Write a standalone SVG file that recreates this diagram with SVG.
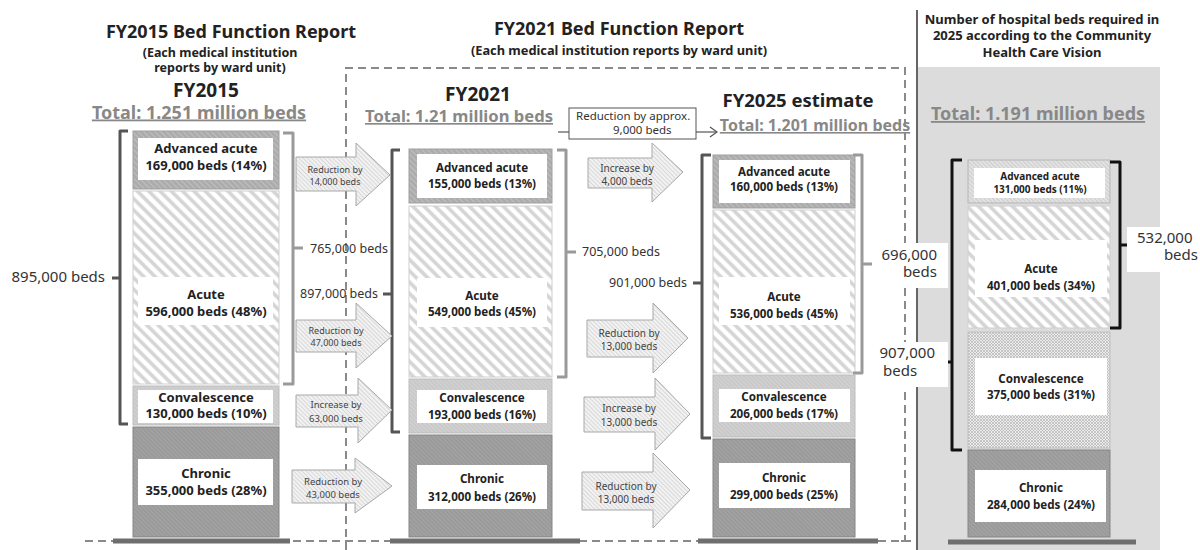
<svg xmlns="http://www.w3.org/2000/svg" width="1200" height="550" viewBox="0 0 1200 550">
<style>
text{font-family:"Noto Sans","DejaVu Sans",sans-serif;}
.title{font-size:18px;font-weight:bold;fill:#222;text-anchor:middle}
.sub{font-size:12.5px;font-weight:bold;fill:#222;text-anchor:middle}
.yr{font-size:19px;font-weight:bold;fill:#222;text-anchor:middle}
.tot{font-size:18px;font-weight:bold;fill:#888;text-anchor:middle;text-decoration:underline}
.lb1{font-size:13px;font-weight:bold;fill:#222;text-anchor:middle}
.lb{font-size:11.6px;font-weight:bold;fill:#222;text-anchor:middle}
.lbs{font-size:10px;font-weight:bold;fill:#222;text-anchor:middle}
.num{font-size:12.5px;fill:#333}
.numL{font-size:15px;fill:#333}
.ar1{font-size:9px;fill:#444;text-anchor:middle}
.ar2{font-size:10px;fill:#444;text-anchor:middle}
.red{font-size:11.5px;fill:#333}
.wb{fill:#fff}
.adv{fill:url(#pAdv);stroke:#a0a0a0;stroke-width:1}
.acu{fill:url(#pAcute);stroke:#cfcfcf;stroke-width:1}
.con{fill:url(#pConv);stroke:#bdbdbd;stroke-width:1}
.chr{fill:url(#pChr);stroke:#858585;stroke-width:1}
.adv4{fill:url(#pAdv4);stroke:#b5b5b5;stroke-width:1}
.con4{fill:url(#pConv4);stroke:#c0c0c0;stroke-width:1}
.arrow{fill:url(#pArrow);stroke:#a8a8a8;stroke-width:1}
.brD{fill:none;stroke:#555;stroke-width:3;stroke-linejoin:round}
.brL{fill:none;stroke:#9a9a9a;stroke-width:3;stroke-linejoin:round}
.brK{fill:none;stroke:#111;stroke-width:3;stroke-linejoin:round}
.base{stroke:#6e6e6e;stroke-width:5}
.dash{fill:none;stroke:#8a8a8a;stroke-width:2;stroke-dasharray:8 5}
</style>
<defs>
<pattern id="pAdv" width="4" height="4" patternUnits="userSpaceOnUse" patternTransform="rotate(-45)">
<rect width="4" height="4" fill="#acacac"/><line x1="0" y1="0" x2="0" y2="4" stroke="#c9c9c9" stroke-width="1.4"/></pattern>
<pattern id="pAcute" width="8" height="8" patternUnits="userSpaceOnUse" patternTransform="rotate(-45)">
<rect width="8" height="8" fill="#fff"/><line x1="2" y1="0" x2="2" y2="8" stroke="#d4d4d4" stroke-width="3.5"/></pattern>
<pattern id="pConv" width="3" height="3" patternUnits="userSpaceOnUse" patternTransform="rotate(-45)">
<rect width="3" height="3" fill="#c9c9c9"/><line x1="0" y1="0" x2="0" y2="3" stroke="#dedede" stroke-width="1"/></pattern>
<pattern id="pChr" width="3" height="3" patternUnits="userSpaceOnUse" patternTransform="rotate(-45)">
<rect width="3" height="3" fill="#9a9a9a"/><line x1="0" y1="0" x2="0" y2="3" stroke="#b0b0b0" stroke-width="1"/></pattern>
<pattern id="pAdv4" width="3" height="3" patternUnits="userSpaceOnUse" patternTransform="rotate(-45)">
<rect width="3" height="3" fill="#e2e2e2"/><line x1="0" y1="0" x2="0" y2="3" stroke="#b8b8b8" stroke-width="1"/></pattern>
<pattern id="pConv4" width="3" height="3" patternUnits="userSpaceOnUse">
<rect width="3" height="3" fill="#ececec"/><path d="M0,0 L3,3 M3,0 L0,3" stroke="#b5b5b5" stroke-width="0.7"/></pattern>
<pattern id="pArrow" width="3" height="3" patternUnits="userSpaceOnUse" patternTransform="rotate(-45)">
<rect width="3" height="3" fill="#f2f2f2"/><line x1="0" y1="0" x2="0" y2="3" stroke="#b3b3b3" stroke-width="0.8"/></pattern>
</defs>

<rect width="1200" height="550" fill="#fff"/>

<!-- right panel background -->
<rect x="918" y="67" width="242" height="483" fill="#dcdcdc"/>
<line x1="917" y1="10" x2="917" y2="550" stroke="#666" stroke-width="2"/>

<!-- frames and baselines -->
<g id="frames">
<path class="dash" d="M346,550 V68 H905 V541"/>
<line class="dash" x1="85" y1="541" x2="906" y2="541"/>
<line x1="901" y1="541" x2="911" y2="541" stroke="#8a8a8a" stroke-width="2"/>
<line class="base" x1="113" y1="541" x2="290" y2="541"/>
<line class="base" x1="390" y1="541" x2="580" y2="541"/>
<line class="base" x1="698" y1="541" x2="878" y2="541"/>
<line class="base" x1="948" y1="542" x2="1136" y2="542"/>
</g>

<!-- headers -->
<g id="headers">
<text class="title" x="231" y="38">FY2015 Bed Function Report</text>
<text class="sub" x="220" y="56.5">(Each medical institution</text>
<text class="sub" x="220" y="71.5">reports by ward unit)</text>
<text class="yr" x="206" y="97">FY2015</text>
<text class="tot" x="199" y="118.5">Total: 1.251 million beds</text>
<text class="title" x="619" y="35">FY2021 Bed Function Report</text>
<text class="sub" x="619" y="55" style="font-size:12.8px">(Each medical institution reports by ward unit)</text>
<text class="yr" x="478" y="101">FY2021</text>
<text class="tot" x="459" y="122" style="font-size:16.6px">Total: 1.21 million beds</text>
<text class="yr" x="798" y="107" style="font-size:18.5px">FY2025 estimate</text>
<text class="tot" x="815" y="131" style="font-size:16px">Total: 1.201 million beds</text>
<text class="sub" x="1042" y="23.5" style="font-size:13px">Number of hospital beds required in</text>
<text class="sub" x="1042" y="40" style="font-size:13px">2025 according to the Community</text>
<text class="sub" x="1042" y="56.5" style="font-size:13px">Health Care Vision</text>
<text class="tot" x="1038" y="120">Total: 1.191 million beds</text>
</g>

<!-- FY2015 column -->
<g id="col2015">
<rect class="adv" x="133" y="131" width="146" height="58"/>
<rect class="wb" x="138" y="138" width="135" height="42"/>
<text class="lb1" x="206" y="153">Advanced acute</text>
<text class="lb1" x="206" y="170">169,000 beds (14%)</text>
<rect class="acu" x="133" y="191" width="146" height="193"/>
<rect class="wb" x="138" y="277" width="135" height="48"/>
<text class="lb1" x="206" y="299">Acute</text>
<text class="lb1" x="206" y="316">596,000 beds (48%)</text>
<rect class="con" x="133" y="386" width="146" height="39"/>
<rect class="wb" x="138" y="390" width="135" height="33"/>
<text class="lb1" x="206" y="402">Convalescence</text>
<text class="lb1" x="206" y="418">130,000 beds (10%)</text>
<rect class="chr" x="133" y="427" width="146" height="110"/>
<rect class="wb" x="138" y="459" width="135" height="46"/>
<text class="lb1" x="206" y="478">Chronic</text>
<text class="lb1" x="206" y="495">355,000 beds (28%)</text>
</g>

<!-- FY2021 column -->
<g id="col2021">
<rect class="adv" x="409" y="149" width="143" height="54"/>
<rect class="wb" x="417" y="154" width="130" height="44"/>
<text class="lb" x="482" y="172">Advanced acute</text>
<text class="lb" x="482" y="188">155,000 beds (13%)</text>
<rect class="acu" x="409" y="206" width="143" height="171"/>
<rect class="wb" x="417" y="278" width="130" height="49"/>
<text class="lb" x="482" y="300">Acute</text>
<text class="lb" x="482" y="316">549,000 beds (45%)</text>
<rect class="con" x="409" y="379" width="143" height="54"/>
<rect class="wb" x="417" y="390" width="130" height="33"/>
<text class="lb" x="482" y="402">Convalescence</text>
<text class="lb" x="482" y="419">193,000 beds (16%)</text>
<rect class="chr" x="409" y="435" width="143" height="102"/>
<rect class="wb" x="417" y="465" width="130" height="44"/>
<text class="lb" x="482" y="483">Chronic</text>
<text class="lb" x="482" y="501">312,000 beds (26%)</text>
</g>

<!-- FY2025 estimate column -->
<g id="col2025">
<rect class="adv" x="713" y="155" width="142" height="53"/>
<rect class="wb" x="719" y="160" width="131" height="43"/>
<text class="lb" x="784" y="176">Advanced acute</text>
<text class="lb" x="784" y="191">160,000 beds (13%)</text>
<rect class="acu" x="713" y="210" width="142" height="163"/>
<rect class="wb" x="719" y="277" width="131" height="48"/>
<text class="lb" x="784" y="301">Acute</text>
<text class="lb" x="784" y="318">536,000 beds (45%)</text>
<rect class="con" x="713" y="375" width="142" height="62"/>
<rect class="wb" x="719" y="389" width="131" height="33"/>
<text class="lb" x="784" y="401">Convalescence</text>
<text class="lb" x="784" y="418">206,000 beds (17%)</text>
<rect class="chr" x="713" y="439" width="142" height="98"/>
<rect class="wb" x="719" y="463" width="131" height="45"/>
<text class="lb" x="784" y="482">Chronic</text>
<text class="lb" x="784" y="499">299,000 beds (25%)</text>
</g>

<!-- Community Health Care Vision column -->
<g id="colVision">
<rect class="adv4" x="968" y="160" width="142" height="43"/>
<rect class="wb" x="974" y="168" width="131" height="30"/>
<text class="lbs" x="1040" y="180">Advanced acute</text>
<text class="lbs" x="1040" y="193">131,000 beds (11%)</text>
<rect class="acu" x="968" y="206" width="142" height="122"/>
<rect class="wb" x="975" y="240" width="132" height="57"/>
<text class="lb" x="1041" y="273">Acute</text>
<text class="lb" x="1041" y="290">401,000 beds (34%)</text>
<rect class="con4" x="968" y="332" width="142" height="116"/>
<rect class="wb" x="975" y="358" width="132" height="57"/>
<text class="lb" x="1041" y="383">Convalescence</text>
<text class="lb" x="1041" y="399">375,000 beds (31%)</text>
<rect class="chr" x="968" y="450" width="142" height="87"/>
<rect class="wb" x="975" y="470" width="131" height="52"/>
<text class="lb" x="1041" y="492">Chronic</text>
<text class="lb" x="1041" y="509">284,000 beds (24%)</text>
</g>

<!-- connectors: brackets, arrows, totals -->
<g id="connectors">
<path class="brD" d="M128,131 H120 V424 H128 M120,278 H112"/>
<path class="brL" d="M283,133 H293 V384 H283 M293,248 H303"/>
<path class="brD" d="M400,150 H392 V432 H400 M392,294 H383"/>
<path class="brL" d="M557,150 H566 V377 H557 M566,252 H576"/>
<path class="brD" d="M711,155 H702 V438 H711 M702,283 H693"/>
<path class="brL" d="M853,155 H862 V373 H853 M862,264 H872"/>
<path class="brK" d="M962,160 H952 V450 H962 M952,362 H944"/>
<path class="brK" d="M1110,162 H1120 V328 H1110 M1120,245 H1129"/>

<path class="arrow" d="M296,157 H356 V143 L390,175 L356,206 V191 H296 Z"/>
<path class="arrow" d="M296,320 H356 V303 L392,336 L356,368 V352 H296 Z"/>
<path class="arrow" d="M296,395 H358 V378 L392,410 L358,443 V427 H296 Z"/>
<path class="arrow" d="M292,470 H355 V458 L392,486 L355,513 V503 H292 Z"/>
<path class="arrow" d="M588,158 H652 V143 L683,172 L652,202 V188 H588 Z"/>
<path class="arrow" d="M587,320 H653 V303 L688,338 L653,373 V357 H587 Z"/>
<path class="arrow" d="M584,397 H655 V378 L690,414 L655,450 V432 H584 Z"/>
<path class="arrow" d="M582,472 H653 V453 L690,490 L653,528 V510 H582 Z"/>

<text class="ar1" x="335" y="173">Reduction by</text>
<text class="ar1" x="335" y="185">14,000 beds</text>
<text class="ar1" x="336" y="334">Reduction by</text>
<text class="ar1" x="336" y="346">47,000 beds</text>
<text class="ar1" x="336" y="408" style="font-size:9.5px">Increase by</text>
<text class="ar1" x="336" y="422" style="font-size:9.5px">63,000 beds</text>
<text class="ar1" x="333" y="485" style="font-size:9.5px">Reduction by</text>
<text class="ar1" x="333" y="498" style="font-size:9.5px">43,000 beds</text>
<text class="ar2" x="627" y="172">Increase by</text>
<text class="ar2" x="627" y="185">4,000 beds</text>
<text class="ar2" x="629" y="337">Reduction by</text>
<text class="ar2" x="629" y="350">13,000 beds</text>
<text class="ar2" x="629" y="412">Increase by</text>
<text class="ar2" x="629" y="426">13,000 beds</text>
<text class="ar2" x="626" y="490">Reduction by</text>
<text class="ar2" x="626" y="503">13,000 beds</text>

<line x1="558" y1="132" x2="569" y2="132" stroke="#555" stroke-width="1.2"/>
<line x1="696" y1="132" x2="717" y2="132" stroke="#555" stroke-width="1.2"/>
<path d="M710,127 L717,132 L710,137" fill="none" stroke="#555" stroke-width="1.2"/>
<rect x="569" y="108" width="127" height="31" fill="#fff" stroke="#555" stroke-width="1"/>
<text class="red" x="576" y="120">Reduction by approx.</text>
<text class="red" x="613" y="134">9,000 beds</text>

<text class="numL" x="105" y="282" text-anchor="end">895,000 beds</text>
<text class="num" x="310" y="253">765,000 beds</text>
<text class="num" x="378" y="298" text-anchor="end">897,000 beds</text>
<text class="num" x="582" y="256">705,000 beds</text>
<text class="num" x="687" y="287" text-anchor="end">901,000 beds</text>

<rect x="877" y="243" width="71" height="45" fill="#fff"/>
<text class="numL" x="937" y="260" text-anchor="end">696,000</text>
<text class="numL" x="937" y="277" text-anchor="end">beds</text>
<rect x="875" y="342" width="73" height="45" fill="#fff"/>
<text class="numL" x="935" y="358" text-anchor="end">907,000</text>
<text class="numL" x="883" y="376">beds</text>
<rect x="1127" y="227" width="73" height="45" fill="#fff"/>
<text class="numL" x="1137" y="243">532,000</text>
<text class="numL" x="1198" y="260" text-anchor="end">beds</text>
</g>
</svg>
